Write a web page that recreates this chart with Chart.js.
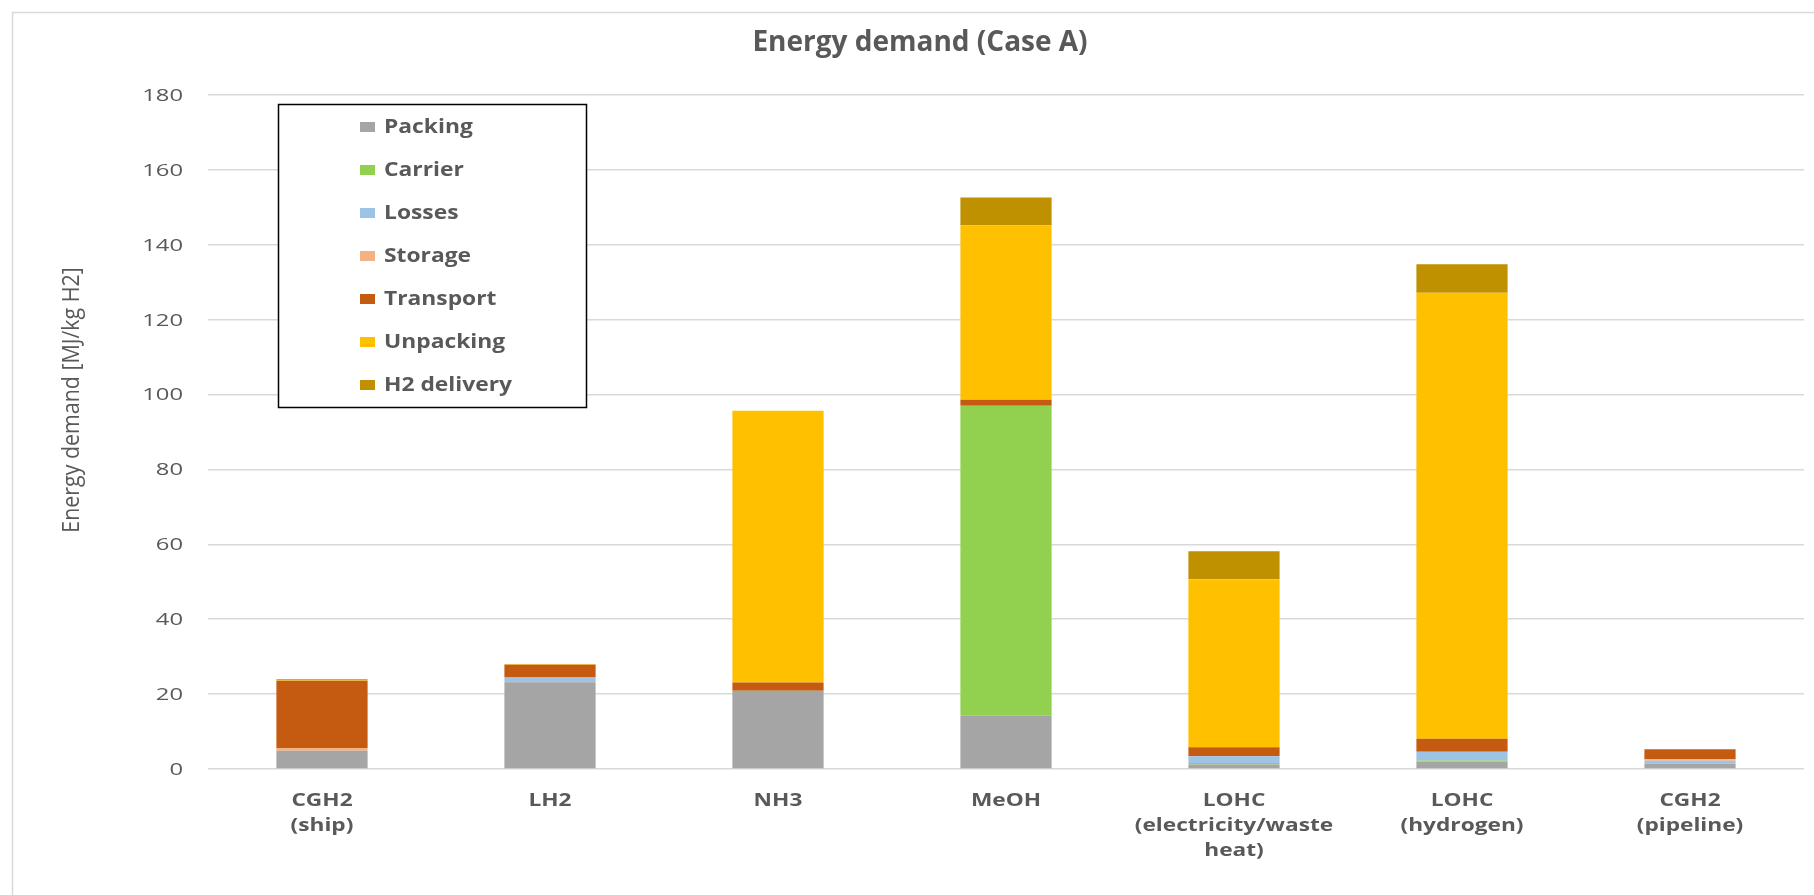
<!DOCTYPE html>
<html>
<head>
<meta charset="utf-8">
<title>Energy demand (Case A)</title>
<script src="https://cdn.jsdelivr.net/npm/chart.js@4.4.1/dist/chart.umd.min.js"></script>
<style>
  html, body { margin: 0; padding: 0; background: #ffffff; }
  #wrap { position: relative; width: 1814px; height: 895px; }
</style>
</head>
<body>
<div id="wrap"><canvas id="chart"></canvas></div>
<script>
// Transport routes (x categories, multi-line labels)
const categories = [
  ['CGH2', '(ship)'],
  ['LH2'],
  ['NH3'],
  ['MeOH'],
  ['LOHC', '(electricity/waste', 'heat)'],
  ['LOHC', '(hydrogen)'],
  ['CGH2', '(pipeline)']
];

// Energy demand per step, MJ/kg H2
const packing    = [4.9, 23.2, 20.9, 14.2, 1.2, 2.0, 1.4];
const carrier    = [0, 0, 0, 82.8, 0.4, 0.3, 0];
const losses     = [0, 1.25, 0, 0, 1.8, 2.3, 0.8];
const storage    = [0.7, 0, 0, 0, 0, 0, 0.4];
const transport  = [18.0, 3.4, 2.2, 1.6, 2.4, 3.5, 2.7];
const unpacking  = [0.1, 0.1, 72.6, 46.6, 44.9, 119.1, 0];
const h2delivery = [0.3, 0.1, 0, 7.4, 7.45, 7.6, 0];

const seriesNames = ['Packing', 'Carrier', 'Losses', 'Storage', 'Transport', 'Unpacking', 'H2 delivery'];
const seriesData  = [packing, carrier, losses, storage, transport, unpacking, h2delivery];

// Value axis ticks
const yTicks = [0, 20, 40, 60, 80, 100, 120, 140, 160, 180];

const chartTitle = 'Energy demand (Case A)';
const yAxisTitle = 'Energy demand [MJ/kg H2]';

// Styling
const seriesColors = ['#A5A5A5', '#92D050', '#9DC3E6', '#F4B183', '#C55A11', '#FFC000', '#BF9000'];
const TEXT = '#595959';
const GRID = '#D9D9D9';

// Draws a line of text, optionally widened horizontally
function putText(ctx, s, x, y, font, sx, align, baseline) {
  ctx.save();
  ctx.translate(x, y);
  ctx.scale(sx, 1);
  ctx.font = font;
  ctx.fillStyle = TEXT;
  ctx.textAlign = align;
  ctx.textBaseline = baseline;
  ctx.fillText(s, 0, 0);
  ctx.restore();
}

const decorations = {
  id: 'decorations',
  afterDraw(chart) {
    const ctx = chart.ctx;
    const xs = chart.scales.x;
    const ys = chart.scales.y;
    const area = chart.chartArea;

    // outer frame
    ctx.save();
    ctx.strokeStyle = GRID;
    ctx.lineWidth = 1.5;
    ctx.strokeRect(12.5, 12.5, 1830, 900);
    ctx.restore();

    // chart title
    putText(ctx, chartTitle, 920, 51, '700 28px "Open Sans"', 1.0, 'center', 'alphabetic');

    // value axis title (rotated, slightly narrowed along its length)
    ctx.save();
    ctx.translate(72, 400);
    ctx.rotate(-Math.PI / 2);
    ctx.scale(0.93, 1);
    ctx.font = '23px "Open Sans"';
    ctx.fillStyle = TEXT;
    ctx.textAlign = 'center';
    ctx.textBaseline = 'middle';
    ctx.fillText(yAxisTitle, 0, 0);
    ctx.restore();

    // value tick labels
    yTicks.forEach(v => {
      putText(ctx, String(v), area.left - 25, ys.getPixelForValue(v) + 1, '17px "Open Sans"', 1.4, 'right', 'middle');
    });

    // category labels
    categories.forEach((lines, i) => {
      const cx = xs.getPixelForValue(i);
      lines.forEach((ln, k) => {
        putText(ctx, ln, cx, area.bottom + 37 + k * 25, '700 18px "Open Sans"', 1.26, 'center', 'alphabetic');
      });
    });

    // legend box
    const lx = 278, ly = 104, lw = 308, lh = 303;
    ctx.save();
    ctx.fillStyle = '#ffffff';
    ctx.fillRect(lx, ly, lw, lh);
    ctx.strokeStyle = '#000000';
    ctx.lineWidth = 1.5;
    ctx.strokeRect(lx + 0.5, ly + 0.5, lw, lh);
    ctx.restore();
    seriesNames.forEach((name, i) => {
      const cy = 127 + i * 43;
      ctx.fillStyle = seriesColors[i];
      ctx.fillRect(360, cy - 5, 15, 10);
      putText(ctx, name, 384, cy + 1, '700 19px "Open Sans"', 1.2, 'left', 'middle');
    });
  }
};

new Chart(document.getElementById('chart'), {
  type: 'bar',
  data: {
    labels: categories.map(l => l.join(' ')),
    datasets: seriesNames.map((name, i) => ({
      label: name,
      data: seriesData[i],
      backgroundColor: seriesColors[i],
      borderWidth: 0,
      categoryPercentage: 1.0,
      barPercentage: 0.4
    }))
  },
  options: {
    responsive: true,
    maintainAspectRatio: false,
    animation: false,
    layout: { padding: { top: 95, left: 0, right: 10, bottom: 0 } },
    plugins: {
      legend: { display: false },
      title: { display: false },
      tooltip: { enabled: false }
    },
    scales: {
      x: {
        stacked: true,
        grid: { display: false },
        border: { display: false },
        ticks: { display: false },
        afterFit(scale) { scale.height = 126; }
      },
      y: {
        stacked: true,
        min: 0,
        max: 180,
        afterBuildTicks(scale) { scale.ticks = yTicks.map(v => ({ value: v })); },
        grid: { color: GRID, lineWidth: 1.5, drawTicks: false },
        border: { display: false },
        ticks: { display: false },
        afterFit(scale) { scale.width = 208; }
      }
    }
  },
  plugins: [decorations]
});
</script>
</body>
</html>
